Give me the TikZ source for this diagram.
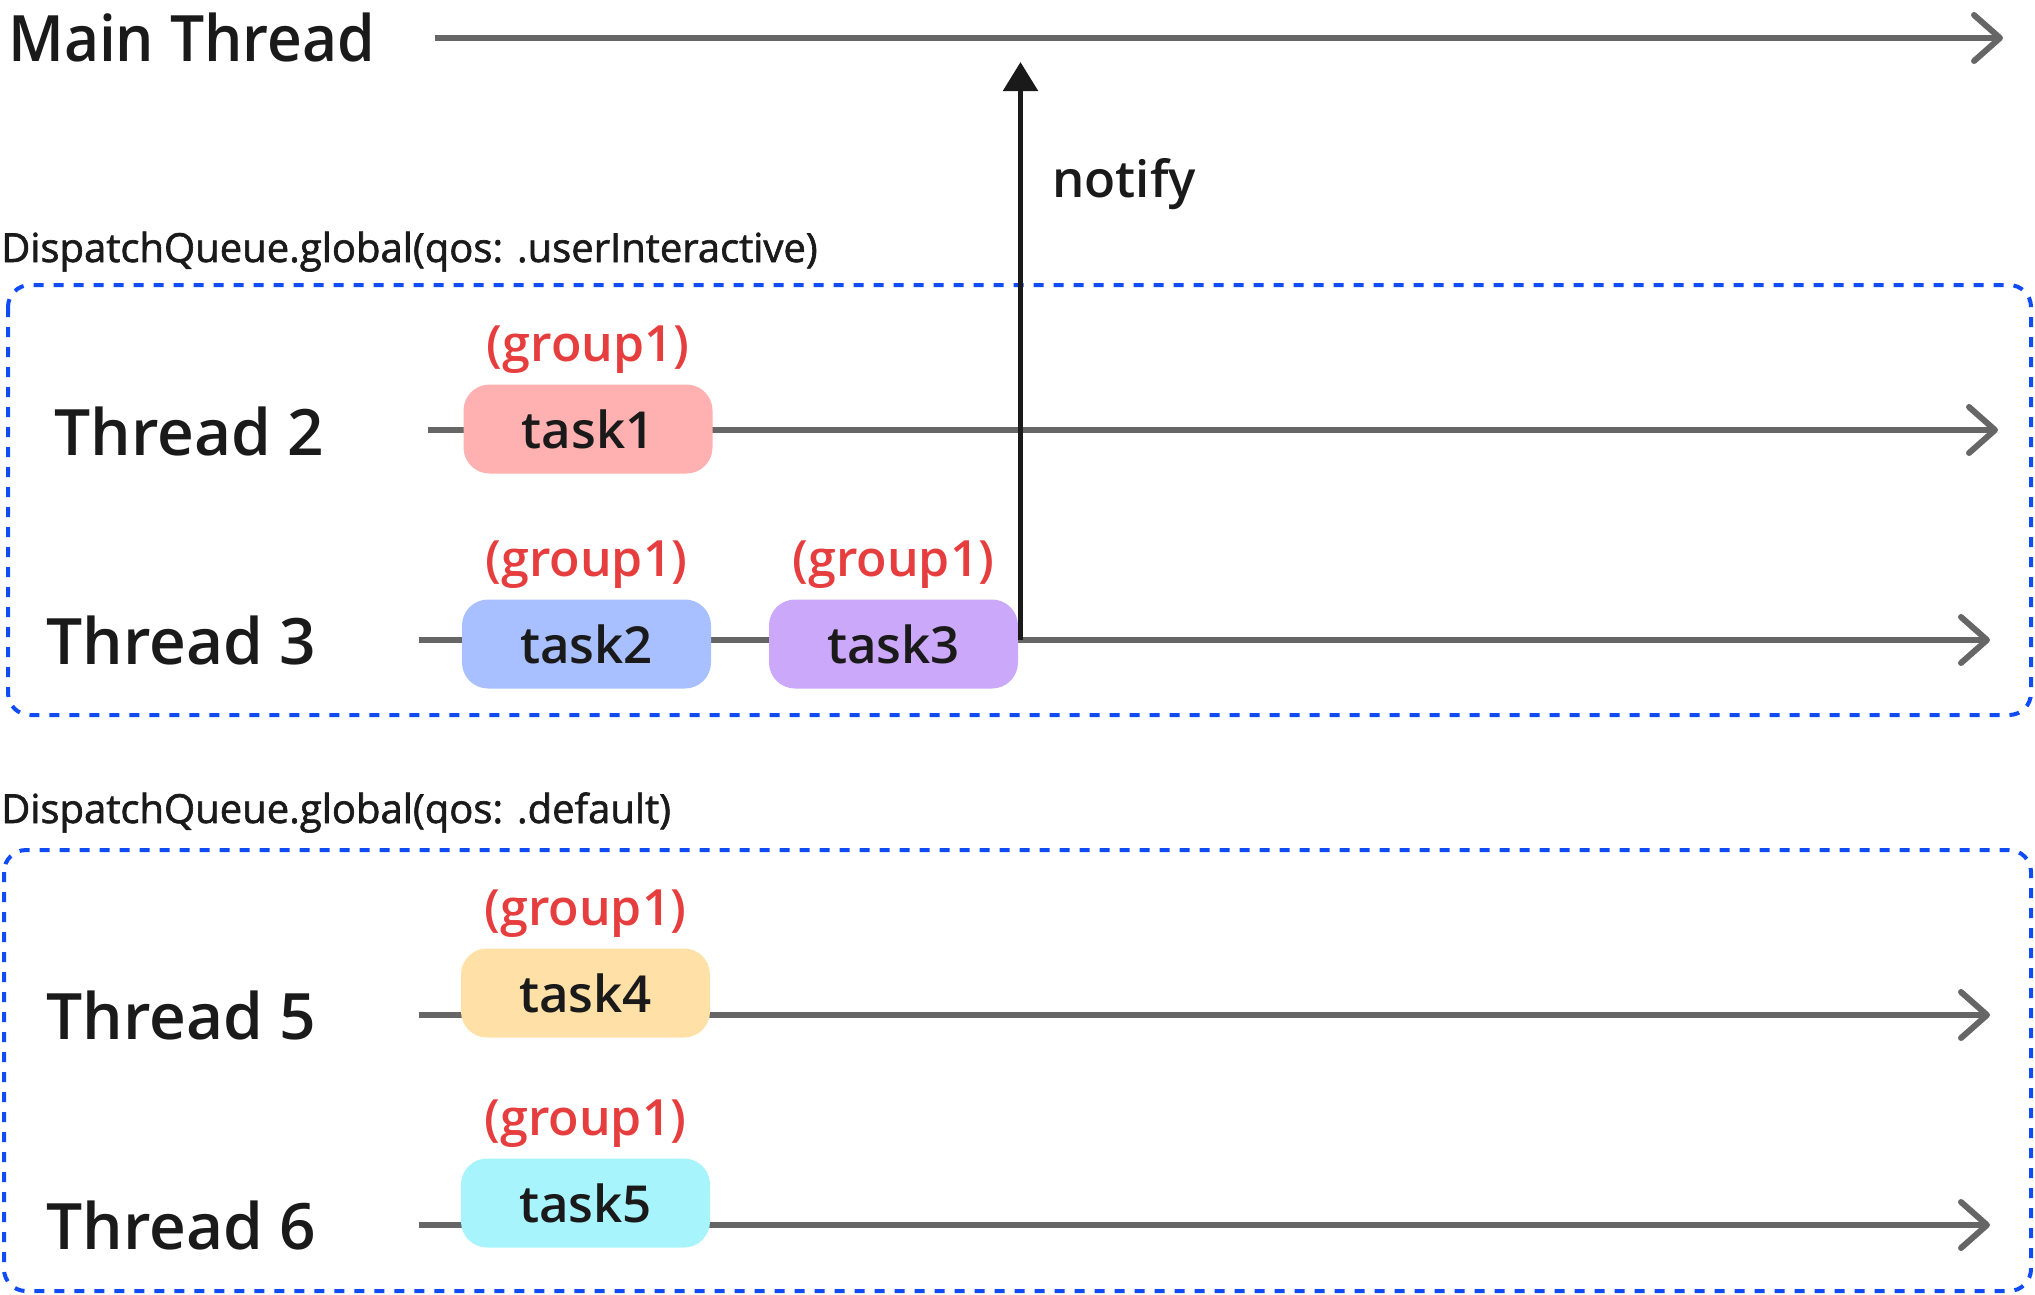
\documentclass[tikz,border=0pt]{standalone}
\usepackage{fontspec}
\usetikzlibrary{arrows.meta}
\setmainfont{Open Sans}
\IfFontExistsTF{Open Sans SemiBold}{\newfontfamily\fsemi{Open Sans SemiBold}}{%
  \IfFontExistsTF{Open Sans Semibold}{\newfontfamily\fsemi{Open Sans Semibold}}{%
    \newfontfamily\fsemi{Open Sans}[FakeBold=1.2]}}
\newfontfamily\fmed{Open Sans}[FakeBold=1.6]
\definecolor{ink}{HTML}{1A1A1A}
\definecolor{thr}{HTML}{666666}
\definecolor{qblue}{HTML}{0F4CF5}
\definecolor{grpred}{HTML}{E63E3E}
\definecolor{c1}{HTML}{FFB0B0}
\definecolor{c2}{HTML}{A8C0FF}
\definecolor{c3}{HTML}{CBA8FA}
\definecolor{c4}{HTML}{FFE0A6}
\definecolor{c5}{HTML}{A8F4FC}
\tikzset{
  thline/.style={draw=thr, line width=6pt,
    -{Straight Barb[length=26pt, width=46pt, line cap=round, line join=round]}},
  biglbl/.style={anchor=base west, inner sep=0pt, text=ink,
    font=\fsemi\fontsize{64}{64}\selectfont},
  qlbl/.style={anchor=base west, inner sep=0pt, text=ink,
    font=\fmed\fontsize{40}{40}\selectfont},
  taskbox/.style={rounded corners=26pt, minimum width=249pt, minimum height=89pt,
    inner sep=0pt, text=ink, font=\fsemi\fontsize{51}{51}\selectfont},
  grp/.style={anchor=base, inner sep=0pt, text=grpred,
    font=\fsemi\fontsize{50}{50}\selectfont},
  qbox/.style={draw=qblue, line width=4pt, dash pattern=on 10pt off 10pt,
    rounded corners=22pt},
}
\begin{document}
\begin{tikzpicture}[x=1pt, y=-1pt]
\useasboundingbox (0,0) rectangle (2035,1294);
% queue boxes
\draw[qbox] (8,285) rectangle (2031,715);
\draw[qbox] (4,850) rectangle (2031,1291);
% labels
\node[biglbl] (mainlbl) at (8,61) {\scalebox{0.945}[1]{Main Thread}};
\node[qlbl] (q1lbl) at (1,262) {DispatchQueue.global(qos: .userInteractive)};
\node[qlbl] (q2lbl) at (1,823) {DispatchQueue.global(qos: .default)};
\node[biglbl] (th2) at (54,455) {Thread 2};
\node[biglbl] (th3) at (46,664) {Thread 3};
\node[biglbl] (th5) at (46,1039) {Thread 5};
\node[biglbl] (th6) at (46,1249) {Thread 6};
% thread lines
\coordinate (m0) at (435,38);   \coordinate (m1) at (2003,38);
\coordinate (a0) at (428,430);  \coordinate (a1) at (1998,430);
\coordinate (b0) at (419,640);  \coordinate (b1) at (1990,640);
\coordinate (c0) at (419,1015); \coordinate (c1) at (1990,1015);
\coordinate (d0) at (419,1225); \coordinate (d1) at (1990,1225);
\draw[thline] (m0) -- (m1);
\draw[thline] (a0) -- (a1);
\draw[thline] (b0) -- (b1);
\draw[thline] (c0) -- (c1);
\draw[thline] (d0) -- (d1);
% tasks
\node[taskbox, fill=c1] (t1) at (588,429) {task1};
\node[taskbox, fill=c2] (t2) at (586.5,644) {task2};
\node[taskbox, fill=c3] (t3) at (893.5,644) {task3};
\node[taskbox, fill=c4] (t4) at (585.5,993) {task4};
\node[taskbox, fill=c5] (t5) at (585.5,1203) {task5};
% group labels
\node[grp] (g1) at ([yshift=23pt]t1.north) {(group1)};
\node[grp] (g2) at ([yshift=23pt]t2.north) {(group1)};
\node[grp] (g3) at ([yshift=23pt]t3.north) {(group1)};
\node[grp] (g4) at ([yshift=23pt]t4.north) {(group1)};
\node[grp] (g5) at ([yshift=23pt]t5.north) {(group1)};
% notify
\coordinate (n0) at (1020.5,640);
\coordinate (n1) at (1020.5,62);
\draw[draw=ink, line width=5.5pt, -{Triangle[length=29pt, width=34pt]}] (n0) -- (n1);
\node[anchor=base west, inner sep=0pt, text=ink, font=\fsemi\fontsize{51}{51}\selectfont]
  (notify) at (1052,197) {notify};
\end{tikzpicture}
\end{document}
